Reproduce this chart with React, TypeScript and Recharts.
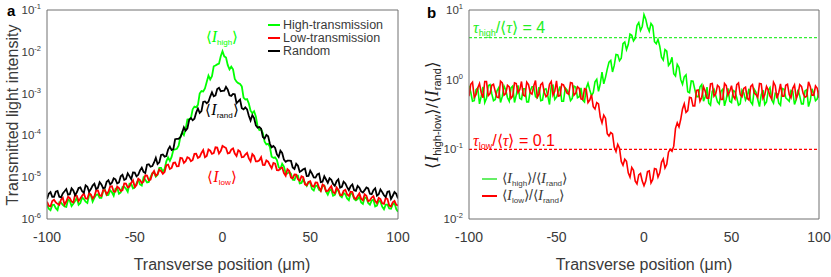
import React from 'react';
import { LineChart, Line, XAxis, YAxis, ReferenceLine, Legend } from 'recharts';

// Transverse position (µm), even samples
const positions = [
  -100, -98, -96, -94, -92, -90, -88, -86, -84, -82,
  -80, -78, -76, -74, -72, -70, -68, -66, -64, -62,
  -60, -58, -56, -54, -52, -50, -48, -46, -44, -42,
  -40, -38, -36, -34, -32, -30, -28, -26, -24, -22,
  -20, -18, -16, -14, -12, -10, -8, -6, -4, -2,
  0,
  2, 4, 6, 8, 10, 12, 14, 16, 18, 20,
  22, 24, 26, 28, 30, 32, 34, 36, 38, 40,
  42, 44, 46, 48, 50, 52, 54, 56, 58, 60,
  62, 64, 66, 68, 70, 72, 74, 76, 78, 80,
  82, 84, 86, 88, 90, 92, 94, 96, 98, 100,
];
// Transverse position (µm), odd samples
const oddPositions = [
  -99, -97, -95, -93, -91, -89, -87, -85, -83, -81,
  -79, -77, -75, -73, -71, -69, -67, -65, -63, -61,
  -59, -57, -55, -53, -51, -49, -47, -45, -43, -41,
  -39, -37, -35, -33, -31, -29, -27, -25, -23, -21,
  -19, -17, -15, -13, -11, -9, -7, -5, -3, -1,
  1, 3, 5, 7, 9, 11, 13, 15, 17, 19,
  21, 23, 25, 27, 29, 31, 33, 35, 37, 39,
  41, 43, 45, 47, 49, 51, 53, 55, 57, 59,
  61, 63, 65, 67, 69, 71, 73, 75, 77, 79,
  81, 83, 85, 87, 89, 91, 93, 95, 97, 99,
];

// Panel a: transmitted light intensity (even samples)
const highTransmission = [
  2.2e-6, 1.62e-6, 2.2e-6, 1.63e-6, 2.46e-6, 2.0e-6, 2.9e-6, 2.03e-6, 2.7e-6, 2.2e-6,
  3.3e-6, 2.6e-6, 3.8e-6, 2.6e-6, 3.8e-6, 3.2e-6, 4.7e-6, 3.7e-6, 4.9e-6, 3.6e-6,
  5.6e-6, 4.3e-6, 5.9e-6, 4.5e-6, 6.9e-6, 5.7e-6, 8.7e-6, 6.3e-6, 8.7e-6, 7.7e-6,
  1.24e-5, 1.03e-5, 1.68e-5, 1.36e-5, 2.4e-5, 2.45e-5, 4.5e-5, 4.8e-5, 9.1e-5, 1.02e-4,
  2.4e-4, 2.6e-4, 4.9e-4, 5.4e-4, 1.15e-3, 1.33e-3, 2.7e-3, 2.6e-3, 4.7e-3, 5.2e-3,
  1.03e-2,
  7.3e-3, 3.8e-3, 3.8e-3, 1.93e-3, 1.7e-3, 8.0e-4, 7.4e-4, 3.9e-4, 3.8e-4, 1.64e-4,
  1.41e-4, 7.1e-5, 6.3e-5, 3.1e-5, 3.0e-5, 1.75e-5, 2.1e-5, 1.24e-5, 1.35e-5, 8.7e-6,
  1.1e-5, 7.1e-6, 9.1e-6, 6.2e-6, 7.3e-6, 4.8e-6, 6.2e-6, 4.7e-6, 6.3e-6, 3.8e-6,
  5.0e-6, 3.8e-6, 4.9e-6, 3.3e-6, 3.9e-6, 2.8e-6, 4.0e-6, 2.8e-6, 3.4e-6, 2.3e-6,
  3.2e-6, 2.2e-6, 2.9e-6, 2.1e-6, 2.6e-6, 1.7e-6, 2.2e-6, 1.76e-6, 2.4e-6, 1.5e-6,
];
const highTransmissionOdd = [
  1.77e-6, 2.15e-6, 1.82e-6, 2.5e-6, 2.19e-6, 1.95e-6, 2.75e-6, 2.31e-6, 3.2e-6, 2.42e-6,
  3.0e-6, 2.42e-6, 3.7e-6, 3.2e-6, 3.9e-6, 3.2e-6, 5.0e-6, 3.75e-6, 4.37e-6, 5.3e-6,
  4.0e-6, 5.8e-6, 5.3e-6, 7.0e-6, 5.4e-6, 7.1e-6, 6.7e-6, 9.8e-6, 7.5e-6, 1.01e-5,
  1.29e-5, 1.14e-5, 1.68e-5, 1.58e-5, 2.98e-5, 3.05e-5, 4.6e-5, 5.7e-5, 1.18e-4, 1.43e-4,
  2.46e-4, 4.2e-4, 4.7e-4, 1.0e-3, 1.12e-3, 1.89e-3, 2.18e-3, 4.5e-3, 5.0e-3, 7.8e-3,
  7.8e-3, 4.8e-3, 4.4e-3, 2.24e-3, 1.78e-3, 1.49e-3, 7.2e-4, 5.8e-4, 3.4e-4, 2.85e-4,
  1.34e-4, 1.12e-4, 6.1e-5, 5.3e-5, 2.9e-5, 2.58e-5, 1.58e-5, 1.8e-5, 1.22e-5, 1.22e-5,
  8.6e-6, 1.09e-5, 7.3e-6, 7.24e-6, 7.6e-6, 5.2e-6, 6.3e-6, 4.95e-6, 6.2e-6, 4.55e-6,
  4.8e-6, 3.6e-6, 4.8e-6, 3.6e-6, 4.2e-6, 3.1e-6, 4.1e-6, 3.0e-6, 3.0e-6, 2.48e-6,
  3.25e-6, 2.42e-6, 2.76e-6, 2.0e-6, 2.75e-6, 1.97e-6, 2.2e-6, 1.78e-6, 2.22e-6, 1.73e-6,
];

const lowTransmission = [
  2.6e-6, 2.0e-6, 2.9e-6, 2.3e-6, 2.9e-6, 2.2e-6, 3.4e-6, 2.6e-6, 3.8e-6, 2.7e-6,
  3.6e-6, 3.1e-6, 4.2e-6, 3.1e-6, 4.8e-6, 3.7e-6, 4.9e-6, 3.9e-6, 6.0e-6, 4.5e-6,
  6.0e-6, 4.7e-6, 7.1e-6, 5.7e-6, 7.4e-6, 5.8e-6, 9.2e-6, 7.3e-6, 1.11e-5, 8.4e-6,
  1.21e-5, 1.08e-5, 1.52e-5, 1.21e-5, 1.94e-5, 1.57e-5, 2.2e-5, 1.82e-5, 2.9e-5, 2.2e-5,
  3.0e-5, 2.4e-5, 3.6e-5, 2.9e-5, 3.8e-5, 3.0e-5, 4.6e-5, 3.6e-5, 5.2e-5, 3.7e-5,
  5.6e-5,
  5.0e-5, 3.8e-5, 4.9e-5, 3.2e-5, 4.1e-5, 3.05e-5, 3.8e-5, 2.4e-5, 3.2e-5, 2.4e-5,
  3.0e-5, 1.95e-5, 2.35e-5, 1.64e-5, 2.1e-5, 1.46e-5, 1.7e-5, 1.08e-5, 1.42e-5, 9.4e-6,
  1.15e-5, 8.2e-6, 1.0e-5, 6.4e-6, 8.0e-6, 5.9e-6, 7.4e-6, 4.7e-6, 6.2e-6, 4.7e-6,
  6.1e-6, 4.1e-6, 5.0e-6, 3.7e-6, 5.0e-6, 3.6e-6, 4.4e-6, 3.0e-6, 4.1e-6, 2.8e-6,
  3.6e-6, 2.8e-6, 3.5e-6, 2.4e-6, 3.0e-6, 2.3e-6, 3.0e-6, 2.0e-6, 2.7e-6, 2.1e-6,
];
const lowTransmissionOdd = [
  2.06e-6, 2.7e-6, 2.51e-6, 2.18e-6, 3.2e-6, 2.62e-6, 3.15e-6, 2.48e-6, 3.6e-6, 3.08e-6,
  4.1e-6, 3.05e-6, 3.87e-6, 3.5e-6, 4.8e-6, 3.54e-6, 4.9e-6, 4.5e-6, 6.1e-6, 4.5e-6,
  5.5e-6, 4.84e-6, 7.0e-6, 6.0e-6, 8.4e-6, 6.5e-6, 8.5e-6, 7.8e-6, 1.09e-5, 8.8e-6,
  1.4e-5, 1.18e-5, 1.4e-5, 1.33e-5, 2.0e-5, 1.67e-5, 2.24e-5, 1.83e-5, 2.84e-5, 2.41e-5,
  2.86e-5, 2.57e-5, 3.63e-5, 3.08e-5, 4.45e-5, 3.23e-5, 4.3e-5, 3.75e-5, 5.1e-5, 4.24e-5,
  5.3e-5, 3.7e-5, 4.6e-5, 3.66e-5, 4.4e-5, 3.0e-5, 3.48e-5, 2.82e-5, 3.56e-5, 2.39e-5,
  2.54e-5, 1.97e-5, 2.52e-5, 1.94e-5, 2.2e-5, 1.48e-5, 1.64e-5, 1.26e-5, 1.56e-5, 9.8e-6,
  1.16e-5, 8.9e-6, 1.05e-5, 6.75e-6, 7.65e-6, 6.2e-6, 7.5e-6, 5.6e-6, 6.7e-6, 4.6e-6,
  5.4e-6, 4.4e-6, 5.7e-6, 3.75e-6, 4.7e-6, 3.87e-6, 4.5e-6, 3.24e-6, 3.55e-6, 3.05e-6,
  3.9e-6, 2.66e-6, 3.26e-6, 2.69e-6, 3.2e-6, 2.37e-6, 3.2e-6, 2.1e-6, 2.52e-6, 2.18e-6,
];

const randomIntensity = [
  3.0e-6, 4.4e-6, 3.4e-6, 4.7e-6, 3.3e-6, 4.6e-6, 3.8e-6, 5.4e-6, 3.7e-6, 5.5e-6,
  4.6e-6, 6.4e-6, 4.5e-6, 6.3e-6, 5.2e-6, 7.6e-6, 5.4e-6, 7.8e-6, 6.7e-6, 9.4e-6,
  7.1e-6, 1.05e-5, 8.6e-6, 1.24e-5, 9.0e-6, 1.29e-5, 1.14e-5, 1.69e-5, 1.26e-5, 2.05e-5,
  1.84e-5, 2.9e-5, 2.26e-5, 3.5e-5, 3.2e-5, 5.4e-5, 4.7e-5, 8.3e-5, 9.0e-5, 1.56e-4,
  1.48e-4, 2.6e-4, 2.5e-4, 4.4e-4, 3.8e-4, 6.5e-4, 6.4e-4, 1.07e-3, 9.1e-4, 1.38e-3,
  1.16e-3,
  1.44e-3, 9.1e-4, 9.8e-4, 5.9e-4, 7.2e-4, 4.2e-4, 4.2e-4, 2.26e-4, 2.6e-4, 1.53e-4,
  1.45e-4, 8.4e-5, 9.5e-5, 5.2e-5, 5.0e-5, 3.05e-5, 3.8e-5, 2.34e-5, 2.5e-5, 1.7e-5,
  2.1e-5, 1.34e-5, 1.55e-5, 1.06e-5, 1.43e-5, 9.9e-6, 1.17e-5, 7.6e-6, 1.05e-5, 7.3e-6,
  8.7e-6, 6.2e-6, 8.9e-6, 5.9e-6, 7.1e-6, 4.9e-6, 6.7e-6, 4.7e-6, 5.6e-6, 4.3e-6,
  5.7e-6, 4.0e-6, 4.9e-6, 3.6e-6, 5.1e-6, 3.7e-6, 4.5e-6, 3.0e-6, 4.4e-6, 3.1e-6,
];
const randomIntensityOdd = [
  4.0e-6, 3.4e-6, 4.5e-6, 3.4e-6, 4.1e-6, 5.2e-6, 3.9e-6, 4.8e-6, 4.35e-6, 5.7e-6,
  4.26e-6, 5.9e-6, 5.2e-6, 7.0e-6, 5.55e-6, 6.7e-6, 5.6e-6, 8.5e-6, 7.4e-6, 8.9e-6,
  7.5e-6, 1.14e-5, 9.1e-6, 1.06e-5, 1.3e-5, 1.05e-5, 1.46e-5, 1.34e-5, 2.0e-5, 1.78e-5,
  2.25e-5, 2.06e-5, 3.4e-5, 3.1e-5, 4.6e-5, 4.46e-5, 8.1e-5, 8.3e-5, 1.15e-4, 1.3e-4,
  2.34e-4, 2.31e-4, 3.5e-4, 3.46e-4, 6.3e-4, 5.9e-4, 8.5e-4, 8.6e-4, 1.29e-3, 1.14e-3,
  1.17e-3, 1.24e-3, 8.8e-4, 9.6e-4, 6.5e-4, 4.46e-4, 4.7e-4, 2.94e-4, 3.06e-4, 1.74e-4,
  1.59e-4, 9.2e-5, 1.03e-4, 6.3e-5, 5.6e-5, 3.5e-5, 4.3e-5, 2.63e-5, 2.48e-5, 2.46e-5,
  1.57e-5, 1.88e-5, 1.43e-5, 1.62e-5, 1.07e-5, 1.22e-5, 9.8e-6, 1.22e-5, 7.8e-6, 8.8e-6,
  9.4e-6, 6.9e-6, 8.0e-6, 5.6e-6, 7.8e-6, 5.8e-6, 6.1e-6, 4.84e-6, 6.2e-6, 4.56e-6,
  4.9e-6, 5.4e-6, 3.9e-6, 5.4e-6, 3.9e-6, 4.4e-6, 3.34e-6, 4.6e-6, 3.6e-6, 4.0e-6,
];

// Panel b: ratios to the random-input intensity (even samples)
const highRatio = [
  0.82, 0.49, 0.72, 0.45, 0.79, 0.54, 0.85, 0.5, 0.69, 0.47,
  0.81, 0.55, 0.76, 0.47, 0.83, 0.52, 0.74, 0.48, 0.79, 0.57,
  0.78, 0.51, 0.74, 0.44, 0.83, 0.56, 0.8, 0.49, 0.71, 0.5,
  0.81, 0.55, 0.76, 0.48, 0.89, 0.59, 0.93, 0.68, 1.28, 1.08,
  1.79, 1.29, 2.3, 1.87, 3.3, 2.7, 4.5, 3.6, 6.0, 5.1,
  8.6,
  5.7, 6.4, 3.5, 3.8, 2.1, 2.7, 1.6, 2.1, 1.13, 1.5,
  0.86, 1.17, 0.65, 0.95, 0.57, 0.79, 0.49, 0.78, 0.43, 0.73,
  0.48, 0.68, 0.42, 0.75, 0.47, 0.67, 0.43, 0.71, 0.51, 0.74,
  0.44, 0.66, 0.41, 0.71, 0.48, 0.77, 0.46, 0.63, 0.43, 0.73,
  0.52, 0.7, 0.44, 0.72, 0.45, 0.69, 0.41, 0.74, 0.5, 0.7,
];
const highRatioOdd = [
  0.66, 0.5, 0.76, 0.58, 0.47, 0.82, 0.63, 0.52, 0.77, 0.57,
  0.71, 0.49, 0.81, 0.6, 0.54, 0.74, 0.48, 0.69, 0.79, 0.55,
  0.5, 0.72, 0.59, 0.82, 0.52, 0.67, 0.49, 0.76, 0.63, 0.54,
  0.78, 0.57, 0.51, 0.76, 0.71, 0.65, 1.01, 0.87, 0.87, 1.42,
  1.89, 1.6, 2.27, 2.03, 3.48, 3.19, 4.33, 3.93, 6.6, 5.8,
  7.4, 4.95, 5.9, 3.27, 3.02, 1.91, 2.57, 1.73, 1.22, 1.66,
  1.0, 1.1, 0.67, 0.96, 0.73, 0.57, 0.85, 0.57, 0.46, 0.68,
  0.59, 0.45, 0.73, 0.52, 0.49, 0.7, 0.55, 0.45, 0.65, 0.58,
  0.48, 0.73, 0.52, 0.61, 0.44, 0.7, 0.51, 0.64, 0.46, 0.75,
  0.55, 0.49, 0.68, 0.52, 0.58, 0.45, 0.72, 0.5, 0.63, 0.53,
];

const lowRatio = [
  0.58, 0.92, 0.61, 0.88, 0.55, 0.94, 0.63, 0.86, 0.56, 0.95,
  0.6, 0.83, 0.54, 0.9, 0.65, 0.94, 0.58, 0.85, 0.62, 0.97,
  0.62, 0.9, 0.57, 0.86, 0.6, 0.96, 0.59, 0.84, 0.64, 0.91,
  0.6, 0.79, 0.53, 0.74, 0.47, 0.61, 0.38, 0.45, 0.24, 0.28,
  0.155, 0.166, 0.093, 0.104, 0.059, 0.067, 0.04, 0.05, 0.032, 0.045,
  0.03,
  0.048, 0.033, 0.053, 0.04, 0.065, 0.054, 0.091, 0.094, 0.2, 0.21,
  0.38, 0.34, 0.56, 0.42, 0.7, 0.49, 0.79, 0.54, 0.87, 0.58,
  0.83, 0.52, 0.88, 0.6, 0.82, 0.53, 0.9, 0.57, 0.78, 0.51,
  0.85, 0.61, 0.88, 0.54, 0.8, 0.58, 0.92, 0.54, 0.87, 0.58,
  0.86, 0.55, 0.84, 0.62, 0.8, 0.56, 0.93, 0.6, 0.81, 0.55,
];
const lowRatioOdd = [
  0.86, 0.56, 0.76, 0.65, 0.94, 0.59, 0.83, 0.68, 0.55, 0.9,
  0.63, 0.79, 0.58, 0.88, 0.72, 0.6, 0.92, 0.65, 0.81, 0.56,
  0.85, 0.66, 0.61, 0.94, 0.68, 0.58, 0.86, 0.73, 0.62, 0.89,
  0.64, 0.75, 0.52, 0.72, 0.51, 0.41, 0.47, 0.29, 0.31, 0.168,
  0.174, 0.108, 0.118, 0.067, 0.072, 0.046, 0.055, 0.035, 0.043, 0.035,
  0.035, 0.049, 0.037, 0.052, 0.046, 0.073, 0.061, 0.1, 0.111, 0.24,
  0.27, 0.45, 0.36, 0.55, 0.42, 0.71, 0.56, 0.68, 0.54, 0.88,
  0.63, 0.78, 0.52, 0.82, 0.68, 0.58, 0.85, 0.61, 0.75, 0.54,
  0.8, 0.64, 0.56, 0.87, 0.61, 0.71, 0.53, 0.82, 0.65, 0.58,
  0.83, 0.61, 0.75, 0.54, 0.85, 0.63, 0.58, 0.8, 0.6, 0.75,
];

const xTicks = [-100, -50, 0, 50, 100];
const leftDecades = [1e-6, 1e-5, 1e-4, 1e-3, 1e-2, 1e-1];
const rightDecades = [1e-2, 1e-1, 1, 10];
const tauHighRatio = 4;
const tauLowRatio = 0.1;

const minorTicks = (decades: number[]) =>
  decades.slice(0, -1).flatMap((d) => [2, 3, 4, 5, 6, 7, 8, 9].map((k) => k * d));

const leftData = [
  ...positions.map((x, i) => ({ x, high: highTransmission[i], low: lowTransmission[i], rand: randomIntensity[i] })),
  ...oddPositions.map((x, i) => ({ x, high: highTransmissionOdd[i], low: lowTransmissionOdd[i], rand: randomIntensityOdd[i] })),
].sort((a, b) => a.x - b.x);

const rightData = [
  ...positions.map((x, i) => ({ x, highRatio: highRatio[i], lowRatio: lowRatio[i] })),
  ...oddPositions.map((x, i) => ({ x, highRatio: highRatioOdd[i], lowRatio: lowRatioOdd[i] })),
].sort((a, b) => a.x - b.x);

const FONT = "'Liberation Sans', Arial, Helvetica, sans-serif";
const SERIF = "'Liberation Serif', 'Times New Roman', serif";
const AXIS = '#707070';
const TEXT = '#3a3a3a';
const GREEN = '#00ff00';
const RED = '#ff0000';
const BR_L = '\u27E8';
const BR_R = '\u27E9';

function PowTick(props: any) {
  const { x, y, payload } = props;
  const e = Math.round(Math.log10(payload.value));
  return (
    <text x={x} y={y + 4} textAnchor="end" fill={TEXT} fontSize={11.5} fontFamily={FONT}>
      <tspan>10</tspan>
      <tspan fontSize={7.5} dy={-5}>{e}</tspan>
    </text>
  );
}

function frameAxes(domain: number[], decades: number[]) {
  const minors = minorTicks(decades);
  const yCommon = { scale: 'log' as const, type: 'number' as const, domain, allowDataOverflow: true };
  const xCommon = { dataKey: 'x', type: 'number' as const, domain: [-100, 100], allowDataOverflow: true, ticks: xTicks, interval: 0 as const };
  return [
    <XAxis key="xb" {...xCommon} height={30} tickLine={false} tickSize={0} tickMargin={13} axisLine={{ stroke: AXIS }} tick={{ fill: TEXT, fontSize: 14, fontFamily: FONT }} />,
    <XAxis key="xbt" xAxisId="bt" {...xCommon} height={1} mirror tick={false} tickSize={4} axisLine={false} tickLine={{ stroke: AXIS }} />,
    <XAxis key="xt" xAxisId="top" orientation="top" {...xCommon} height={1} mirror tick={false} tickSize={4} axisLine={{ stroke: AXIS }} tickLine={{ stroke: AXIS }} />,
    <YAxis key="yl" {...yCommon} width={40} ticks={decades} interval={0} tick={<PowTick />} tickLine={false} tickSize={0} tickMargin={6} axisLine={{ stroke: AXIS }} />,
    <YAxis key="ylt" yAxisId="lt" {...yCommon} width={1} ticks={decades} interval={0} mirror tick={false} tickSize={4} axisLine={false} tickLine={{ stroke: AXIS }} />,
    <YAxis key="ylm" yAxisId="lm" {...yCommon} width={1} ticks={minors} interval={0} mirror tick={false} tickSize={2} axisLine={false} tickLine={{ stroke: AXIS }} />,
    <YAxis key="yr" yAxisId="r" orientation="right" {...yCommon} width={1} ticks={decades} interval={0} mirror tick={false} tickSize={4} axisLine={{ stroke: AXIS }} tickLine={{ stroke: AXIS }} />,
    <YAxis key="yrm" yAxisId="rm" orientation="right" {...yCommon} width={1} ticks={minors} interval={0} mirror tick={false} tickSize={2} axisLine={false} tickLine={{ stroke: AXIS }} />,
  ];
}

const legendColors: Record<string, string> = {
  high: GREEN, low: RED, rand: '#000', highRatio: '#66ee66', lowRatio: RED,
};

const leftLegend = (props: any) => (
  <div style={{ fontFamily: FONT, fontSize: 12.5, color: TEXT, lineHeight: '13px' }}>
    {(props.payload || []).map((p: any) => (
      <div key={p.value} style={{ display: 'flex', alignItems: 'center', height: 13, whiteSpace: 'nowrap' }}>
        <span style={{ display: 'inline-block', width: 12, borderTop: `2px solid ${legendColors[p.dataKey] || p.color}`, marginRight: 3 }} />
        <span>{p.value}</span>
      </div>
    ))}
  </div>
);

const subStyle: React.CSSProperties = { fontSize: 8, position: 'relative', top: 3 };
const itStyle: React.CSSProperties = { fontFamily: SERIF, fontStyle: 'italic', fontSize: 15 };

const ratioLabel = (key: string) => (
  <span>
    {BR_L}<span style={itStyle}>I</span><span style={subStyle}>{key === 'highRatio' ? 'high' : 'low'}</span>{BR_R}/{BR_L}
    <span style={itStyle}>I</span><span style={subStyle}>rand</span>{BR_R}
  </span>
);

const rightLegend = (props: any) => (
  <div style={{ fontFamily: FONT, fontSize: 14, color: TEXT, lineHeight: '17px' }}>
    {(props.payload || []).map((p: any) => (
      <div key={p.dataKey} style={{ display: 'flex', alignItems: 'center', height: 17, whiteSpace: 'nowrap' }}>
        <span style={{ display: 'inline-block', width: 15, borderTop: `2px solid ${legendColors[p.dataKey] || p.color}`, marginRight: 5 }} />
        {ratioLabel(p.dataKey)}
      </div>
    ))}
  </div>
);

function MathI({ sub, size = 16, subSize = 8, color }: { sub: string; size?: number; subSize?: number; color?: string }) {
  return (
    <>
      <tspan fontSize={size} fill={color}>{BR_L}</tspan>
      <tspan fontFamily={SERIF} fontStyle="italic" fontSize={size + 1} fill={color}>I</tspan>
      <tspan fontSize={subSize} dy={3} fill={color}>{sub}</tspan>
      <tspan fontSize={size} dy={-3} fill={color}>{BR_R}</tspan>
    </>
  );
}

function Overlay() {
  return (
    <svg width={831} height={277} style={{ position: 'absolute', left: 0, top: 0, pointerEvents: 'none' }} fontFamily={FONT}>
      <text x={7} y={16} fontSize={15} fontWeight="bold" fill="#000">a</text>
      <text x={427} y={18} fontSize={15} fontWeight="bold" fill="#000">b</text>

      <text transform="translate(18,115) rotate(-90)" textAnchor="middle" fontSize={16} fill={TEXT}>Transmitted light intensity</text>
      <text x={222} y={270} textAnchor="middle" fontSize={16} fill={TEXT}>Transverse position (μm)</text>
      <text x={644} y={270} textAnchor="middle" fontSize={16} fill={TEXT}>Transverse position (μm)</text>

      <text transform="translate(438,115) rotate(-90)" textAnchor="middle" fill="#222">
        <MathI sub="high-low" size={17} subSize={11} />
        <tspan fontSize={17}>/</tspan>
        <MathI sub="rand" size={17} subSize={11} />
      </text>

      <text x={222} y={42} textAnchor="middle"><MathI sub="high" size={15} color={GREEN} /></text>
      <text x={222} y={115} textAnchor="middle"><MathI sub="rand" size={15} color="#000" /></text>
      <text x={222} y={182} textAnchor="middle"><MathI sub="low" size={15} color={RED} /></text>

      <text x={473} y={33} fill="#22ee22" fontSize={16}>
        <tspan fontFamily={SERIF} fontStyle="italic">τ</tspan>
        <tspan fontSize={9} dy={3}>high</tspan>
        <tspan dy={-3}>/{BR_L}</tspan>
        <tspan fontFamily={SERIF} fontStyle="italic">τ</tspan>
        <tspan>{BR_R} = 4</tspan>
      </text>
      <text x={473} y={146} fill={RED} fontSize={16}>
        <tspan fontFamily={SERIF} fontStyle="italic">τ</tspan>
        <tspan fontSize={9} dy={3}>low</tspan>
        <tspan dy={-3}>/{BR_L}</tspan>
        <tspan fontFamily={SERIF} fontStyle="italic">τ</tspan>
        <tspan>{BR_R} = 0.1</tspan>
      </text>
    </svg>
  );
}

export default function App() {
  return (
    <div style={{ position: 'absolute', left: 0, top: 0, width: 831, height: 277, background: '#fff', fontFamily: FONT }}>
      <div style={{ position: 'absolute', left: 0, top: 0 }}>
        <LineChart width={420} height={277} data={leftData} margin={{ top: 10, right: 22, bottom: 28, left: 7 }}>
          {frameAxes([1e-6, 1e-1], leftDecades)}
          <Line dataKey="high" name="High-transmission" stroke={GREEN} strokeWidth={1.8} dot={false} isAnimationActive={false} />
          <Line dataKey="low" name="Low-transmission" stroke={RED} strokeWidth={1.8} dot={false} isAnimationActive={false} />
          <Line dataKey="rand" name="Random" stroke="#000" strokeWidth={1.8} dot={false} isAnimationActive={false} />
          <Legend layout="vertical" align="center" verticalAlign="middle" content={leftLegend}
            wrapperStyle={{ position: 'absolute', left: 268, top: 18.5, width: 'auto', height: 'auto' }} />
        </LineChart>
      </div>
      <div style={{ position: 'absolute', left: 420, top: 0 }}>
        <LineChart width={411} height={277} data={rightData} margin={{ top: 10, right: 12, bottom: 28, left: 9 }}>
          {frameAxes([1e-2, 10], rightDecades)}
          <ReferenceLine y={tauHighRatio} stroke="#33ee33" strokeDasharray="3 2" strokeWidth={1.3} />
          <ReferenceLine y={tauLowRatio} stroke={RED} strokeDasharray="3 2" strokeWidth={1.3} />
          <Line dataKey="highRatio" name="high/rand" stroke={GREEN} strokeWidth={1.6} dot={false} isAnimationActive={false} />
          <Line dataKey="lowRatio" name="low/rand" stroke={RED} strokeWidth={1.6} dot={false} isAnimationActive={false} />
          <Legend layout="vertical" align="center" verticalAlign="middle" content={rightLegend}
            wrapperStyle={{ position: 'absolute', left: 62, top: 170.5, width: 'auto', height: 'auto' }} />
        </LineChart>
      </div>
      <Overlay />
    </div>
  );
}
